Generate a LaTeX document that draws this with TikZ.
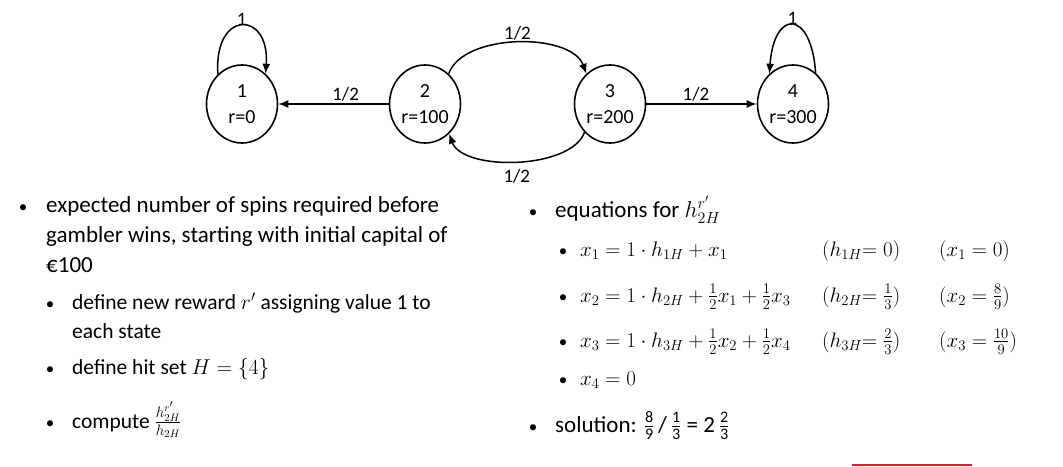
\RequirePackage{fix-cm}
\documentclass[tikz,border=0pt]{standalone}
\usepackage{amsmath}
\usepackage[no-math]{fontspec}
\setmainfont{Carlito}
\usetikzlibrary{arrows.meta,shapes.geometric}
\definecolor{accent}{RGB}{200,40,40}

\begin{document}
\begin{tikzpicture}[x=1pt,y=1pt,>={Latex[length=10pt,width=8pt]},
    state/.style={draw,ellipse,line width=1.6pt,minimum width=71pt,minimum height=78pt,inner sep=0pt,align=center,font=\fontsize{20}{26}\selectfont,execute at begin node=\rule{0pt}{19pt}},
    prob/.style={font=\fontsize{19}{19}\selectfont,inner sep=2pt},
    edge/.style={->,line width=1.5pt},
    big/.style={anchor=base west,inner sep=0pt,font=\fontsize{23}{30}\selectfont},
    small/.style={anchor=base west,inner sep=0pt,font=\fontsize{21.5}{29}\selectfont},
    eq/.style={anchor=base west,inner sep=0pt,font=\fontsize{21}{29}\selectfont},
    dot/.style={anchor=base,inner sep=0pt,font=\fontsize{17}{17}\selectfont}]
        \useasboundingbox (0,0) rectangle (1063,-466);

        % the chain
        \node(s1) at (242,-104) [state]{1\\r=0};
        \node(s2) at (425,-104) [state]{2\\r=100};
        \node(s3) at (610,-104) [state]{3\\r=200};
        \node(s4) at (793,-104) [state]{4\\r=300};

        \draw[edge] (s2) -- node[prob,above,pos=.39]{1/2} (s1);
        \draw[edge] (s3) -- node[prob,above,pos=.45]{1/2} (s4);
        \draw[edge] (s2.52) .. controls +(70:44) and +(110:44) .. node[prob,above]{1/2} (s3.128);
        \draw[edge] (s3.228) .. controls +(250:40) and +(290:40) .. node[prob,below,inner sep=7pt]{1/2} (s2.309);
        \draw[edge] (s1.129) .. controls +(94:65) and +(86:64) .. node[prob,above,inner sep=0pt]{1} (s1.52);
        \draw[edge] (s4.54) .. controls +(94:64) and +(86:65) .. node[prob,above,inner sep=0pt]{1} (s4.128);

        % left column
        \node(b1) at (23,-212) [dot]{•};
        \node(t1a) at (46,-212) [big]{expected number of spins required before};
        \node(t1b) at (46,-242) [big]{gambler wins, starting with initial capital of};
        \node(t1c) at (46,-272) [big]{€100};
        \node(b2) at (50,-309) [dot]{•};
        \node(t2a) at (72,-309) [small]{define new reward $r'$ assigning value 1 to};
        \node(t2b) at (72,-338) [small]{each state};
        \node(b3) at (50,-374) [dot]{•};
        \node(t3) at (72,-374) [small]{define hit set $H=\{4\}$};
        \node(b4) at (50,-428) [dot]{•};
        \node(t4) at (72,-428) [small]{compute $\frac{h^{r'}_{2H}}{h_{2H}}$};

        % right column
        \node(b5) at (533,-217) [dot]{•};
        \node(t5) at (555,-217) [big]{equations for $h^{r'}_{2H}$};
        \node(b6) at (563,-256) [dot]{•};
        \node(e1) at (580,-256) [eq]{$x_1=1\cdot h_{1H}+x_1$};
        \node(h1) at (822,-256) [eq]{$(h_{1H}{=}\;0)$};
        \node(v1) at (939,-256) [eq]{$(x_1=0)$};
        \node(b7) at (563,-302) [dot]{•};
        \node(e2) at (580,-302) [eq]{$x_2=1\cdot h_{2H}+\frac{1}{2}x_1+\frac{1}{2}x_3$};
        \node(h2) at (822,-302) [eq]{$(h_{2H}{=}\;\frac{1}{3})$};
        \node(v2) at (939,-302) [eq]{$(x_2=\frac{8}{9})$};
        \node(b8) at (563,-347) [dot]{•};
        \node(e3) at (580,-347) [eq]{$x_3=1\cdot h_{3H}+\frac{1}{2}x_2+\frac{1}{2}x_4$};
        \node(h3) at (822,-347) [eq]{$(h_{3H}{=}\;\frac{2}{3})$};
        \node(v3) at (939,-347) [eq]{$(x_3=\frac{10}{9})$};
        \node(b9) at (563,-385) [dot]{•};
        \node(e4) at (580,-385) [eq]{$x_4=0$};
        \node(b10) at (533,-432) [dot]{•};
        \node(t10) at (555,-432) [big]{solution: $\frac{\text{8}}{\text{9}}$\,/\,$\frac{\text{1}}{\text{3}}$ = 2\,$\frac{\text{2}}{\text{3}}$};

        \draw[accent,line width=2.5pt] (852,-465) -- (972,-465);
    \end{tikzpicture}
\end{document}
